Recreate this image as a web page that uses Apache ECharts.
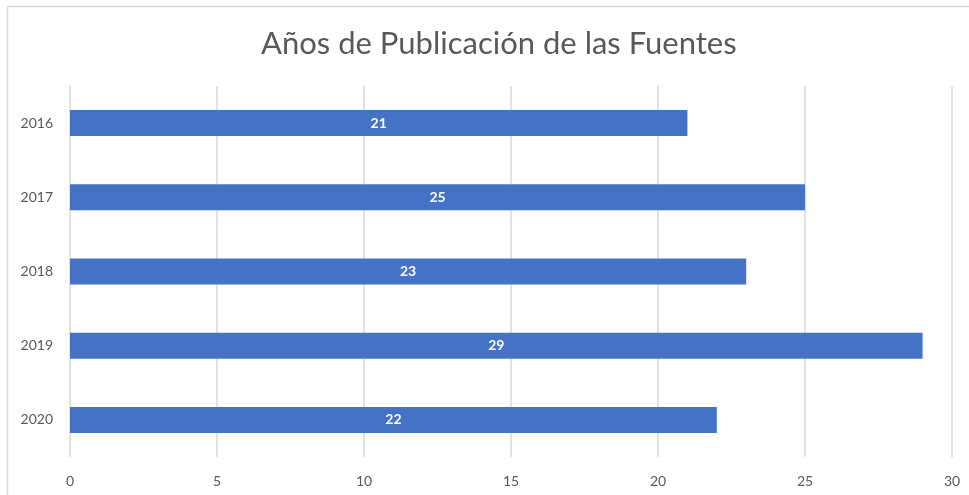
<!DOCTYPE html>
<html>
<head>
<meta charset="utf-8">
<script src="https://cdn.jsdelivr.net/npm/echarts@6/dist/echarts.min.js"></script>
<style>
  html, body { margin: 0; padding: 0; background: #fff; }
  #chart { width: 969px; height: 495px; }
</style>
</head>
<body>
<div id="chart"></div>
<script>
var years = ['2016', '2017', '2018', '2019', '2020'];
var counts = [21, 25, 23, 29, 22];
var xTicks = [0, 30, 5]; // min, max, interval

var chart = echarts.init(document.getElementById('chart'));
var option = {
    backgroundColor: '#fff',
    animation: false,
    title: {
        text: 'Años de Publicación de las Fuentes',
        left: 256,
        top: 23,
        textStyle: {
            fontFamily: 'Lato',
            fontSize: 31,
            fontWeight: 'normal',
            color: '#595959'
        }
    },
    // light frame of the original chart area
    graphic: [{
        type: 'rect',
        shape: { x: 7.5, y: 6.5, width: 1000, height: 600 },
        style: { fill: 'none', stroke: '#d9d9d9', lineWidth: 1.5 },
        silent: true
    }],
    grid: { left: 70, right: 17, top: 86, bottom: 38 },
    xAxis: {
        type: 'value',
        min: xTicks[0],
        max: xTicks[1],
        interval: xTicks[2],
        axisLine: { show: false },
        axisTick: { show: false },
        axisLabel: { color: '#595959', fontFamily: 'Lato', fontSize: 14, margin: 17 },
        splitLine: { lineStyle: { color: '#d9d9d9', width: 1.5 } }
    },
    yAxis: {
        type: 'category',
        data: years,
        inverse: true,
        axisLine: { show: false },
        axisTick: { show: false },
        axisLabel: { color: '#595959', fontFamily: 'Lato', fontSize: 14, margin: 17 }
    },
    series: [{
        type: 'bar',
        data: counts,
        barWidth: 26,
        itemStyle: { color: '#4472C4' },
        label: {
            show: true,
            position: 'inside',
            color: '#fff',
            fontFamily: 'Lato',
            fontWeight: 'bold',
            fontSize: 14
        }
    }]
};
chart.setOption(option);
</script>
</body>
</html>
